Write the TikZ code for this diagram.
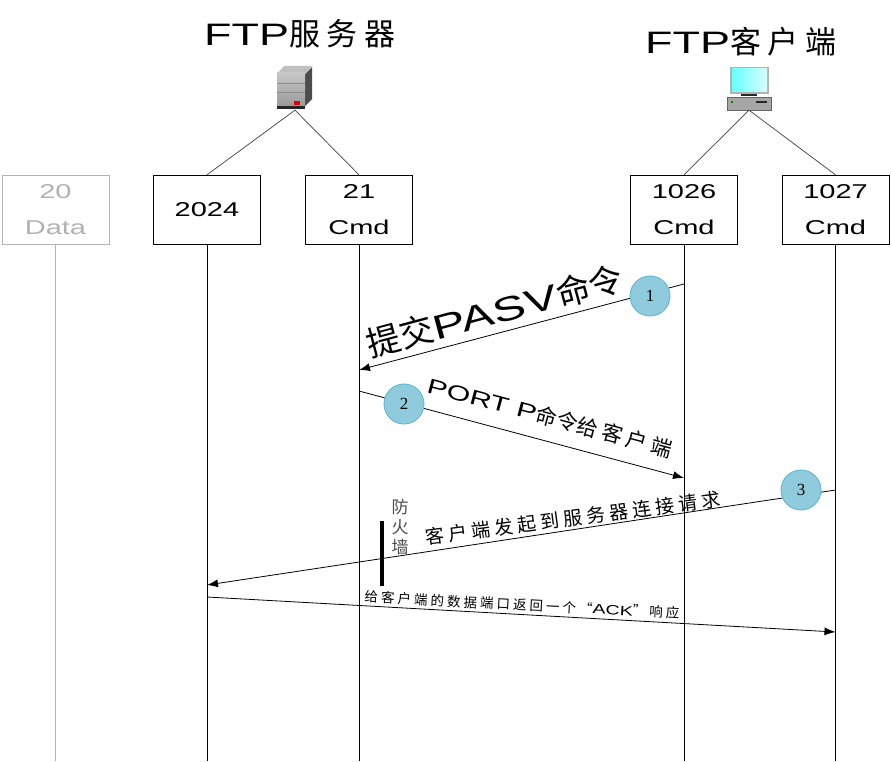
\documentclass[tikz,border=0pt]{standalone}
\usepackage{fontspec}
\setmainfont{Noto Sans CJK SC}
\newfontfamily\widefont[FakeStretch=1.45]{Liberation Sans}
\newfontfamily\numfont{Liberation Serif}
\usetikzlibrary{positioning,arrows.meta}
\definecolor{stepblue}{HTML}{8FCBDD}
\definecolor{stepline}{HTML}{55B4CF}
\tikzset{
  portbox/.style={draw=black!80, minimum width=107pt, minimum height=69pt, align=center,
    inner sep=0pt, font=\widefont\fontsize{20}{36}\selectfont},
  lifeline/.style={draw=black!70, line width=.7pt},
  treeline/.style={draw=black!75, line width=.7pt},
  msg/.style={draw=black, line width=.8pt, -{Latex[length=11pt,width=8pt]}},
  stepmark/.style={circle, draw=stepline, fill=stepblue, line width=.8pt, minimum size=40pt,
    inner sep=0pt, font=\numfont\fontsize{17}{17}\selectfont},
  msglabel/.style={inner sep=0pt, text=black},
}
\begin{document}
\begin{tikzpicture}[x=1pt,y=-1pt]
\useasboundingbox (0,0) rectangle (891,762);
\fill[white] (0,0) rectangle (891,762);

% titles
\node[msglabel, font=\fontsize{31}{31}\selectfont] (servertitle) at (300,34) {\widefont FTP\rmfamily 服 务 器};
\node[msglabel, font=\fontsize{31}{31}\selectfont] (clienttitle) at (741,42) {\widefont FTP\rmfamily 客 户 端};

% ports
\foreach \name/\x/\txt/\col in {pa/55.5/{20\\Data}/black!30, pb/207/{2024}/black, pc/359/{21\\Cmd}/black,
    pd/684/{1026\\Cmd}/black, pe/835.5/{1027\\Cmd}/black}
{
  \node[portbox, draw=\col, text=\col] (\name) at (\x,209.5) {\vspace*{3pt}\txt};
  \draw[lifeline, draw=\col] (\name) ++(0,34.5) -- (\name |- 0,761);
}

% server icon
\node[minimum width=36pt, minimum height=44pt, inner sep=0pt] (server) at (295,88) {};
\fill[black!70] (277,106) -- (305,106) -- (312,99) -- (312,67) -- (305,74) -- cycle;
\fill[black!25] (277,74) -- (284,66) -- (312,66) -- (305,74) -- cycle;
\shade[top color=black!22, bottom color=black!40] (277,73) rectangle (305,106);
\draw[black!45, line width=.4pt] (277,83) -- (305,83) (277,92) -- (305,92);
\fill[black!85] (277,106) rectangle (305,109);
\fill[red!90!black] (294,101) rectangle (300,105);

% client icon
\node[minimum width=44pt, minimum height=43pt, inner sep=0pt] (client) at (749,88.5) {};
\fill[black!30] (730,67) rectangle (769,94);
\shade[left color=cyan!60, right color=cyan!15] (732,69) rectangle (767,92);
\fill[black!85] (741,94) rectangle (757,96);
\fill[black!35] (727,97) rectangle (771,110);
\draw[black!60, line width=.4pt] (727,97) rectangle (771,110);
\fill[black!85] (756,101) rectangle (767,103);
\fill[green!50!black] (731,101) rectangle (733,103);

% trees
\foreach \from/\to in {server/pb, server/pc, client/pd, client/pe}
  \draw[treeline] (\from.south) -- (\to.north);

% messages
\coordinate (m1s) at (pd |- 0,284);
\coordinate (m1e) at (pc |- 0,370);
\coordinate (m2s) at (pc |- 0,391);
\coordinate (m2e) at (pd |- 0,478);
\coordinate (m3s) at (pe |- 0,490);
\coordinate (m3e) at (pb |- 0,585);
\coordinate (m4s) at (pb |- 0,597);
\coordinate (m4e) at (pe |- 0,632);
\foreach \from/\to in {m1s/m1e, m2s/m2e, m3s/m3e, m4s/m4e}
  \draw[msg] (\from) -- (\to);

% circles
\node[stepmark] (one) at (650,296) {1};
\node[stepmark] (two) at (404,404) {2};
\node[stepmark] (three) at (801,490) {3};

% firewall
\coordinate (fwtop) at (382,521);
\coordinate (fwbot) at (382,586);
\draw[line width=3.6pt] (fwtop) -- (fwbot);
\node[msglabel, text=black!70, align=center, font=\fontsize{17}{20}\selectfont] (fwlabel) at (400,527) {防\\火\\墙};

% labels
\node[msglabel, rotate=15, font=\fontsize{34}{34}\selectfont] (l1) at (495,311) {提交{\widefont PASV}命令};
\node[msglabel, rotate=-15, font=\fontsize{21}{21}\selectfont] (l2) at (550,417) {{\widefont PORT P}命令给 客 户 端};
\node[msglabel, rotate=7.5, font=\fontsize{19}{19}\selectfont] (l3) at (573,518) {客 户 端 发 起 到 服 务 器 连 接 请 求};
\node[msglabel, rotate=-3, font=\fontsize{13.5}{13.5}\selectfont] (l4) at (522,605) {给 客 户 端 的 数 据 端 口 返 回 一 个 “{\widefont ACK}” 响 应};
\end{tikzpicture}
\end{document}
